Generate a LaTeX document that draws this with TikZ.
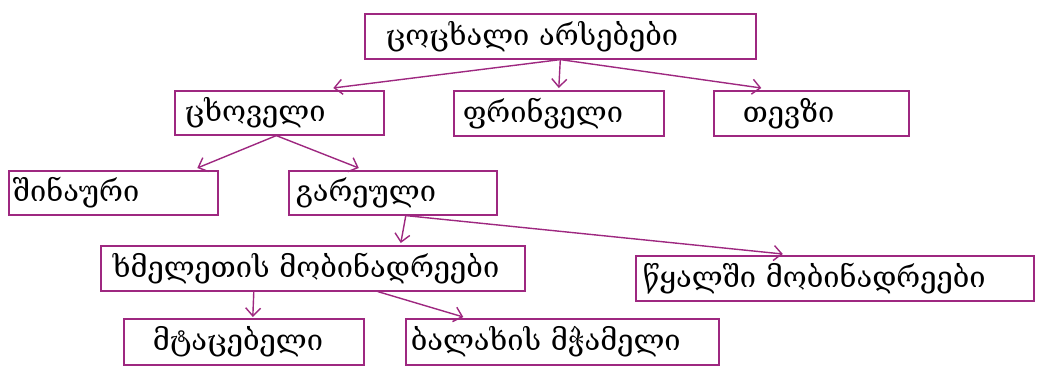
\documentclass[tikz,border=0pt]{standalone}
\usepackage{fontspec}
\newfontfamily\geo{DejaVu Serif}
\usetikzlibrary{arrows.meta}
\definecolor{lila}{RGB}{158,40,128}
\tikzset{
  caja/.style={draw=lila, line width=1.6pt, anchor=north west, align=left,
    inner ysep=0pt, font=\geo\fontsize{29}{33}\selectfont},
  flecha/.style={draw=lila, line width=1.4pt, -{Straight Barb[length=8pt,width=15pt]}}
}
\begin{document}
\begin{tikzpicture}[x=1pt,y=-1pt]
    \useasboundingbox (0,0) rectangle (1038,372);

    % Raiz del arbol
    \node[caja, minimum width=391pt, minimum height=45pt, inner xsep=21pt, text width=349pt] (raiz) at (364,13) {ცოცხალი არსებები};

    % Segundo nivel
    \node[caja, minimum width=209pt, minimum height=44pt, inner xsep=10pt, text width=189pt] (cxoveli) at (174,90) {ცხოველი};
    \node[caja, minimum width=210pt, minimum height=45pt, inner xsep=9pt, text width=192pt] (frinveli) at (453,90) {ფრინველი};
    \node[caja, minimum width=195pt, minimum height=45pt, inner xsep=29pt, text width=137pt] (tevzi) at (713,90) {თევზი};

    % Tercer nivel
    \node[caja, minimum width=209pt, minimum height=44pt, inner xsep=4pt, text width=201pt] (shinauri) at (8,170) {შინაური};
    \node[caja, minimum width=208pt, minimum height=44pt, inner xsep=7pt, text width=194pt] (gareuli) at (288,170) {გარეული};

    % Cuarto nivel
    \node[caja, minimum width=424pt, minimum height=45pt, inner xsep=12pt, text width=400pt] (xmeleti) at (100,245) {\mbox{ხმელეთის მობინადრეები}};
    \node[caja, minimum width=398pt, minimum height=45pt, inner xsep=7pt, text width=384pt] (tsqali) at (635,255) {წყალში მობინადრეები};

    % Quinto nivel
    \node[caja, minimum width=240pt, minimum height=46pt, inner xsep=29pt, text width=182pt] (mtacebeli) at (123,318) {მტაცებელი};
    \node[caja, minimum width=313pt, minimum height=46pt, inner xsep=5pt, text width=303pt] (balaxi) at (405,318) {ბალახის მჭამელი};

    % Flechas
    \draw[flecha] (raiz.south) -- ([xshift=54pt,yshift=2pt]cxoveli.north);
    \draw[flecha] (raiz.south) -- ([yshift=2pt]frinveli.north);
    \draw[flecha] (raiz.south) -- ([xshift=-50pt,yshift=2pt]tevzi.north);
    \draw[flecha] ([xshift=-3pt]cxoveli.south) -- ([xshift=84pt,yshift=2pt]shinauri.north);
    \draw[flecha] ([xshift=-3pt]cxoveli.south) -- ([xshift=-34pt,yshift=2pt]gareuli.north);
    \draw[flecha] ([xshift=13pt]gareuli.south) -- ([xshift=88pt,yshift=2pt]xmeleti.north);
    \draw[flecha] ([xshift=13pt]gareuli.south) -- ([xshift=-52pt,yshift=1pt]tsqali.north);
    \draw[flecha] ([xshift=-59pt]xmeleti.south) -- ([xshift=9pt,yshift=1pt]mtacebeli.north);
    \draw[flecha] ([xshift=65pt]xmeleti.south) -- ([xshift=-99pt,yshift=1pt]balaxi.north);

\end{tikzpicture}
\end{document}
